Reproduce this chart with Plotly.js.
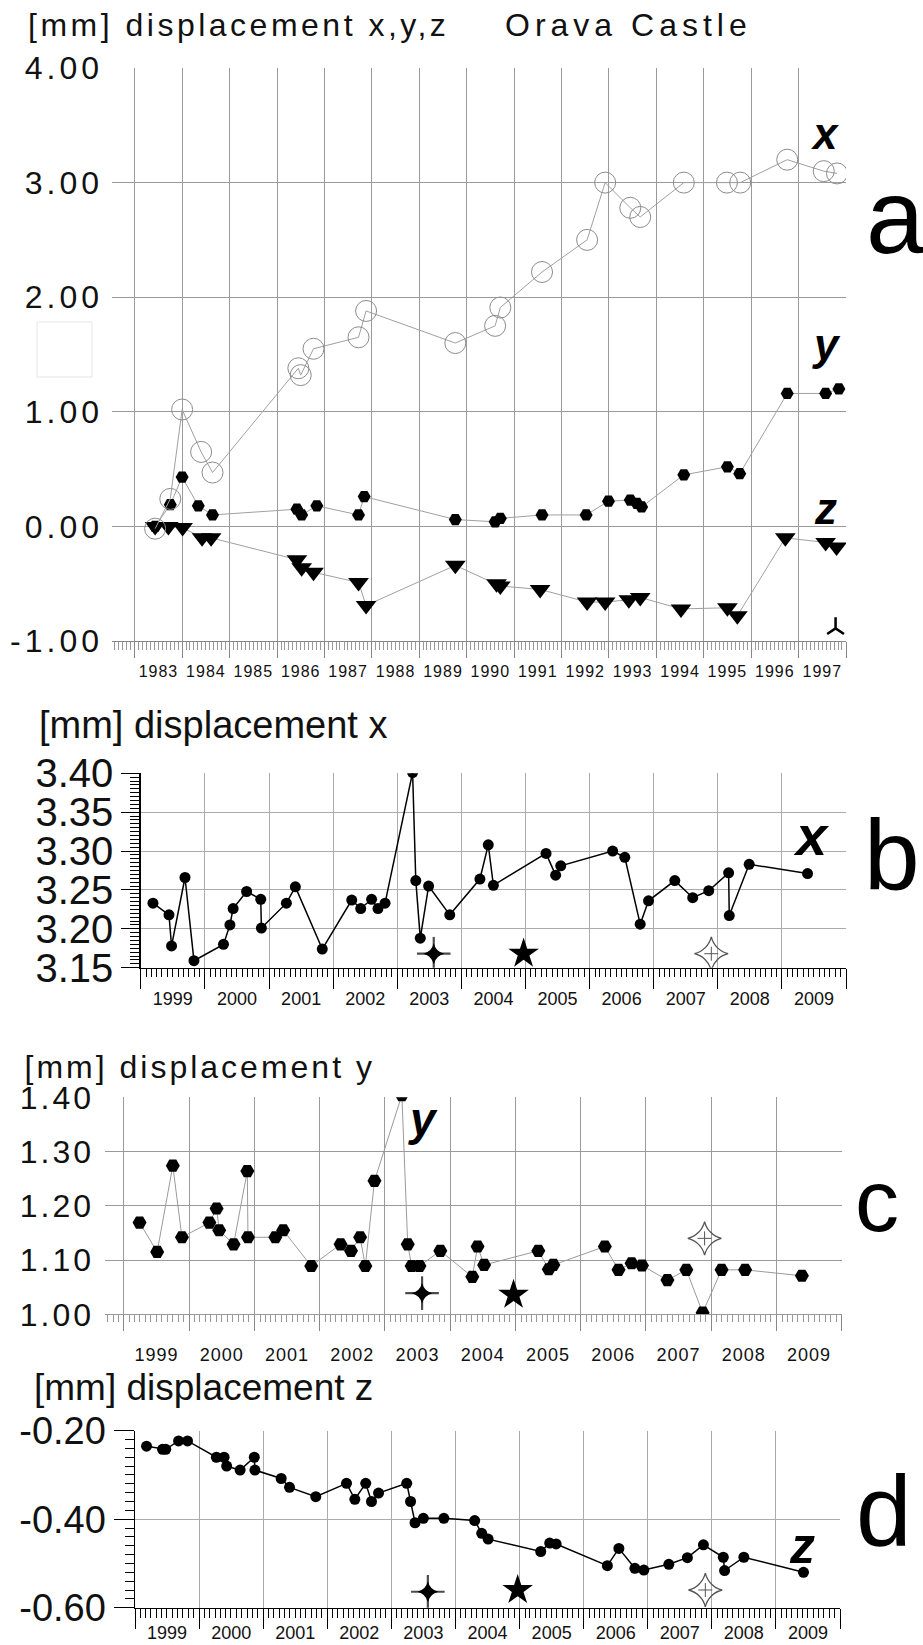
<!DOCTYPE html>
<html><head><meta charset="utf-8">
<script src="https://cdn.plot.ly/plotly-3.0.1.min.js"></script>
<style>
html,body{margin:0;padding:0;background:#fff;}
#chart{width:923px;height:1645px;}
.gtitle{letter-spacing:3.5px;}
.annotation[data-index="0"] text{letter-spacing:5px;}
.annotation[data-index="2"] text{letter-spacing:3px;}
.subplot.xy .yaxislayer-above text{letter-spacing:4px;}
.subplot.x3y3 .yaxislayer-above text{letter-spacing:3px;}
.subplot.xy .xaxislayer-above text{letter-spacing:1px;}
.subplot.x3y3 .xaxislayer-above text{letter-spacing:1px;}
</style></head><body><div id="chart"></div>
<script>
// ---------- Panel a : displacement x, y, z 1983-1997 ----------
const aXYears = [1983.43, 1983.75, 1984.00, 1984.40, 1984.64, 1986.45, 1986.50, 1986.77, 1987.72, 1987.88, 1989.76, 1990.60, 1990.71, 1991.59, 1992.54, 1992.92, 1993.45, 1993.66, 1994.58, 1995.49, 1995.77, 1996.76, 1997.53, 1997.81];
const aXVals  = [-0.02, 0.24, 1.02, 0.65, 0.47, 1.38, 1.32, 1.55, 1.65, 1.88, 1.60, 1.75, 1.91, 2.22, 2.50, 3.00, 2.78, 2.70, 3.00, 3.00, 3.00, 3.20, 3.10, 3.08];
const aYYears = [1983.43, 1983.75, 1984.00, 1984.34, 1984.64, 1986.42, 1986.52, 1986.84, 1987.72, 1987.84, 1989.76, 1990.60, 1990.71, 1991.59, 1992.52, 1992.99, 1993.45, 1993.59, 1993.69, 1994.58, 1995.50, 1995.76, 1996.76, 1997.57, 1997.85];
const aYVals  = [0.00, 0.19, 0.43, 0.18, 0.10, 0.15, 0.10, 0.18, 0.10, 0.26, 0.06, 0.04, 0.07, 0.10, 0.10, 0.22, 0.23, 0.20, 0.17, 0.45, 0.52, 0.46, 1.16, 1.16, 1.20];
const aZYears = [1983.43, 1983.71, 1984.01, 1984.42, 1984.61, 1986.42, 1986.52, 1986.77, 1987.72, 1987.88, 1989.76, 1990.63, 1990.71, 1991.55, 1992.54, 1992.92, 1993.42, 1993.66, 1994.52, 1995.50, 1995.71, 1996.72, 1997.57, 1997.80];
const aZVals  = [0.00, 0.00, -0.01, -0.10, -0.10, -0.29, -0.36, -0.40, -0.49, -0.69, -0.34, -0.50, -0.52, -0.55, -0.66, -0.66, -0.64, -0.62, -0.72, -0.71, -0.78, -0.10, -0.14, -0.18];
const aMarkYears = [1997.78];
const aMarkVals  = [-0.89];
const aYTicks  = [-1, 0, 1, 2, 3, 4];
const aYLabels = ['-1.00', '0.00', '1.00', '2.00', '3.00', '4.00'];

// ---------- Panel b : displacement x 1999-2009 ----------
const bYears = [1999.19, 1999.44, 1999.48, 1999.69, 1999.83, 2000.29, 2000.39, 2000.44, 2000.65, 2000.87, 2000.88, 2001.27, 2001.41, 2001.83, 2002.29, 2002.43, 2002.60, 2002.70, 2002.81, 2003.24, 2003.29, 2003.36, 2003.49, 2003.82, 2004.29, 2004.42, 2004.50, 2005.32, 2005.47, 2005.55, 2006.36, 2006.55, 2006.79, 2006.92, 2007.33, 2007.61, 2007.86, 2008.17, 2008.18, 2008.49, 2009.40];
const bVals  = [3.233, 3.218, 3.178, 3.266, 3.159, 3.180, 3.205, 3.226, 3.248, 3.238, 3.201, 3.233, 3.254, 3.174, 3.237, 3.226, 3.238, 3.226, 3.233, 3.401, 3.262, 3.188, 3.255, 3.218, 3.264, 3.308, 3.256, 3.297, 3.269, 3.281, 3.300, 3.292, 3.206, 3.236, 3.262, 3.240, 3.249, 3.272, 3.217, 3.283, 3.271];
const bYTicks  = [3.15, 3.20, 3.25, 3.30, 3.35, 3.40];
const bYLabels = ['3.15', '3.20', '3.25', '3.30', '3.35', '3.40'];

// ---------- Panel c : displacement y 1999-2009 ----------
const cYears = [1999.24, 1999.51, 1999.75, 1999.89, 2000.31, 2000.42, 2000.46, 2000.68, 2000.89, 2000.90, 2001.32, 2001.44, 2001.87, 2002.32, 2002.48, 2002.62, 2002.70, 2002.84, 2003.26, 2003.35, 2003.41, 2003.53, 2003.85, 2004.34, 2004.42, 2004.52, 2005.35, 2005.51, 2005.58, 2006.37, 2006.58, 2006.78, 2006.94, 2007.33, 2007.62, 2007.87, 2008.16, 2008.52, 2009.39];
const cVals  = [1.169, 1.115, 1.274, 1.142, 1.169, 1.195, 1.155, 1.129, 1.264, 1.142, 1.142, 1.155, 1.089, 1.129, 1.117, 1.142, 1.089, 1.246, 1.404, 1.129, 1.089, 1.089, 1.117, 1.069, 1.125, 1.091, 1.117, 1.083, 1.091, 1.125, 1.082, 1.094, 1.090, 1.063, 1.082, 1.003, 1.082, 1.082, 1.071];
const cYTicks  = [1.0, 1.1, 1.2, 1.3, 1.4];
const cYLabels = ['1.00', '1.10', '1.20', '1.30', '1.40'];

// ---------- Panel d : displacement z 1999-2009 ----------
const dYears = [1999.18, 1999.43, 1999.48, 1999.68, 1999.82, 2000.27, 2000.39, 2000.43, 2000.64, 2000.86, 2000.87, 2001.28, 2001.41, 2001.82, 2002.30, 2002.43, 2002.60, 2002.69, 2002.80, 2003.24, 2003.30, 2003.37, 2003.50, 2003.82, 2004.30, 2004.41, 2004.51, 2005.33, 2005.47, 2005.57, 2006.37, 2006.55, 2006.80, 2006.94, 2007.33, 2007.62, 2007.87, 2008.18, 2008.20, 2008.50, 2009.43];
const dVals  = [-0.235, -0.242, -0.242, -0.223, -0.223, -0.260, -0.260, -0.280, -0.289, -0.260, -0.289, -0.308, -0.328, -0.349, -0.319, -0.355, -0.319, -0.360, -0.341, -0.319, -0.360, -0.408, -0.398, -0.398, -0.403, -0.432, -0.445, -0.473, -0.454, -0.456, -0.505, -0.466, -0.511, -0.515, -0.502, -0.487, -0.458, -0.486, -0.516, -0.486, -0.520];
const dYTicks  = [-0.6, -0.4, -0.2];
const dYLabels = ['-0.60', '-0.40', '-0.20'];

// ---------- Event symbols (stars): [black 4-point, black 5-point, open 4-point] ----------
const eventYears = [2003.57, 2004.97, 2007.90];
const eventB = [3.168, 3.168, 3.168];
const eventC = [1.039, 1.036, 1.140];
const eventD = [-0.564, -0.560, -0.560];

// ---------- Texts ----------
const titleMain = '[mm] displacement x,y,z';
const titlePlace = 'Orava Castle';
const titleB = '[mm] displacement x';
const titleC = '[mm] displacement y';
const titleD = '[mm] displacement z';

// helpers
function yd(v){ const y = Math.floor(v); const s = Date.UTC(y,0,1), e = Date.UTC(y+1,0,1);
  return new Date(s + (v - y) * (e - s)).toISOString().slice(0,19).replace('T',' '); }
const W = 923, H = 1645;
const px = v => v / W;
const py = v => 1 - v / H;
const FONT = 'Liberation Sans, Arial, Helvetica, sans-serif';
const gA = '#9a9a9a', gB = '#ababab';

function eventTraces(xa, ya, vals){
  const xs = eventYears.map(yd);
  const base = {type:'scatter', mode:'markers', xaxis:xa, yaxis:ya};
  return [
    // black four-pointed star: concave core + thin spikes
    Object.assign({}, base, {x:[xs[0]], y:[vals[0]],
      marker:{symbol:'star-diamond', size:15, color:'#000', line:{width:0}}}),
    Object.assign({}, base, {x:[xs[0], xs[0]], y:[vals[0], vals[0]],
      marker:{symbol:['line-ns', 'line-ew'], size:[24, 24], color:'#000', line:{width:2.2, color:'#000'}}}),
    // black five-pointed star
    Object.assign({}, base, {x:[xs[1]], y:[vals[1]],
      marker:{symbol:'star', size:23, color:'#000', line:{width:0}}}),
    // open four-pointed star with a small inner cross
    Object.assign({}, base, {x:[xs[2]], y:[vals[2]],
      marker:{symbol:'star-diamond-open', size:24, color:'#555', line:{width:1.3, color:'#555'}}}),
    Object.assign({}, base, {x:[xs[2]], y:[vals[2]],
      marker:{symbol:'cross-thin', size:10, color:'#555', line:{width:1, color:'#555'}}})
  ];
}

const data = [
  {type:'scatter', mode:'lines+markers', x:aZYears.map(yd), y:aZVals, xaxis:'x', yaxis:'y',
   line:{color:'#a0a0a0', width:1}, marker:{symbol:'triangle-down', size:18, color:'#000'}},
  {type:'scatter', mode:'lines+markers', x:aYYears.map(yd), y:aYVals, xaxis:'x', yaxis:'y',
   line:{color:'#a0a0a0', width:1}, marker:{symbol:'hexagon2', size:13, color:'#000'}},
  {type:'scatter', mode:'lines+markers', x:aXYears.map(yd), y:aXVals, xaxis:'x', yaxis:'y',
   line:{color:'#a0a0a0', width:1}, marker:{symbol:'circle-open', size:21, color:'#8c8c8c', line:{width:1}}},
  {type:'scatter', mode:'markers', x:aMarkYears.map(yd), y:aMarkVals, xaxis:'x', yaxis:'y',
   marker:{symbol:'y-up', size:14, color:'#000', line:{width:2.5, color:'#000'}}},

  {type:'scatter', mode:'lines+markers', x:bYears.map(yd), y:bVals, xaxis:'x2', yaxis:'y2',
   line:{color:'#000', width:1.5}, marker:{symbol:'circle', size:11, color:'#000'}},
  ...eventTraces('x2', 'y2', eventB),

  {type:'scatter', mode:'lines+markers', x:cYears.map(yd), y:cVals, xaxis:'x3', yaxis:'y3',
   line:{color:'#9a9a9a', width:1}, marker:{symbol:'hexagon2', size:14, color:'#000'}},
  ...eventTraces('x3', 'y3', eventC),

  {type:'scatter', mode:'lines+markers', x:dYears.map(yd), y:dVals, xaxis:'x4', yaxis:'y4',
   line:{color:'#000', width:1.5}, marker:{symbol:'circle', size:11, color:'#000'}},
  ...eventTraces('x4', 'y4', eventD)
];

function xAxis(dom, anchor, r0, r1, t0, opts){
  return Object.assign({
    domain:dom, anchor:anchor, type:'date', range:[yd(r0), yd(r1)],
    tickmode:'linear', tick0:t0, dtick:'M12', tickformat:'%Y', ticklabelmode:'period',
    ticks:'outside', showgrid:true, zeroline:false, showline:true, fixedrange:true
  }, opts);
}
function yAxis(dom, anchor, r, tv, tt, opts){
  return Object.assign({
    domain:dom, anchor:anchor, range:r, tickmode:'array', tickvals:tv, ticktext:tt,
    showgrid:true, zeroline:false, fixedrange:true
  }, opts);
}

const layout = {
  width:W, height:H, margin:{l:0, r:0, t:0, b:0}, showlegend:false,
  paper_bgcolor:'#fff', plot_bgcolor:'rgba(0,0,0,0)',
  font:{family:FONT, color:'#111'},
  title:{text:titleMain, x:px(28), xanchor:'left', xref:'paper', y:py(25), yanchor:'middle', yref:'paper',
         font:{size:32, color:'#111'}},

  xaxis: xAxis([px(112), px(846)], 'y', 1982.52, 1998.0, '1983-01-01', {
    ticklen:16, tickcolor:'#888', gridcolor:gA, linecolor:'#888', tickfont:{size:16},
    minor:{dtick:'M1', tick0:'1983-01-01', ticks:'outside', ticklen:8, tickcolor:'#999', showgrid:false}}),
  yaxis: yAxis([py(641), py(68)], 'x', [-1, 4], aYTicks, aYLabels, {
    ticks:'', gridcolor:gA, showline:false, tickfont:{size:32}, ticklabelstandoff:8}),

  xaxis2: xAxis([px(140.8), px(846)], 'y2', 1999, 2010, '1999-01-01', {
    ticklen:20, tickcolor:'#000', gridcolor:gB, linecolor:'#000', linewidth:1.5, tickfont:{size:18},
    ticklabelstandoff:-6,
    minor:{dtick:'M1', tick0:'1999-01-01', ticks:'outside', ticklen:8, tickcolor:'#000', showgrid:false}}),
  yaxis2: yAxis([py(967.7), py(773.3)], 'x2', [3.15, 3.40], bYTicks, bYLabels, {
    ticks:'outside', ticklen:18, tickcolor:'#000', showline:true, linecolor:'#000', linewidth:1.5,
    gridcolor:gB, tickfont:{size:40}, ticklabelstandoff:0,
    minor:{dtick:0.005, tick0:3.15, ticks:'outside', ticklen:9, tickcolor:'#000', showgrid:false}}),

  xaxis3: xAxis([px(105), px(841.7)], 'y3', 1998.71, 2010, '1999-01-01', {
    ticklen:16, tickcolor:'#888', gridcolor:gA, linecolor:'#999', tickfont:{size:18}, ticklabelstandoff:8,
    minor:{dtick:'M1', tick0:'1999-01-01', ticks:'outside', ticklen:7, tickcolor:'#999', showgrid:false}}),
  yaxis3: yAxis([py(1314.3), py(1097.3)], 'x3', [1.0, 1.4], cYTicks, cYLabels, {
    ticks:'', gridcolor:gA, showline:false, tickfont:{size:32}, ticklabelstandoff:10}),

  xaxis4: xAxis([px(135), px(840)], 'y4', 1999, 2010, '1999-01-01', {
    ticklen:20, tickcolor:'#000', gridcolor:gB, linecolor:'#000', linewidth:1.5, tickfont:{size:18},
    ticklabelstandoff:-12,
    minor:{dtick:'M1', tick0:'1999-01-01', ticks:'outside', ticklen:9, tickcolor:'#000', showgrid:false}}),
  yaxis4: yAxis([py(1607.7), py(1430.7)], 'x4', [-0.6, -0.2], dYTicks, dYLabels, {
    ticks:'outside', ticklen:20, tickcolor:'#000', showline:true, linecolor:'#000', linewidth:1.5,
    gridcolor:gB, tickfont:{size:38}, ticklabelstandoff:0,
    minor:{dtick:0.02, tick0:-0.6, ticks:'outside', ticklen:9, tickcolor:'#000', showgrid:false}}),

  shapes:[
    {type:'rect', xref:'paper', yref:'paper', x0:px(37), x1:px(92), y0:py(377), y1:py(322),
     line:{color:'#e6e6e6', width:1}}
  ],

  annotations:[
    // letter-spaced texts are centred on their unspaced width, so their x is moved by half the added spacing
    {text:titlePlace, xref:'paper', yref:'paper', x:px(503 + 30), y:py(25), xanchor:'left', yanchor:'middle', showarrow:false, font:{size:32}},
    {text:titleB, xref:'paper', yref:'paper', x:px(37), y:py(725), xanchor:'left', yanchor:'middle', showarrow:false, font:{size:38}},
    {text:titleC, xref:'paper', yref:'paper', x:px(22 + 28.5), y:py(1067), xanchor:'left', yanchor:'middle', showarrow:false, font:{size:32}},
    {text:titleD, xref:'paper', yref:'paper', x:px(32), y:py(1387), xanchor:'left', yanchor:'middle', showarrow:false, font:{size:37}},

    {text:'<b><i>x</i></b>', xref:'paper', yref:'paper', x:px(825), y:py(133), xanchor:'center', yanchor:'middle', showarrow:false, font:{size:44, color:'#000'}},
    {text:'<b><i>y</i></b>', xref:'paper', yref:'paper', x:px(826), y:py(344), xanchor:'center', yanchor:'middle', showarrow:false, font:{size:44, color:'#000'}},
    {text:'<b><i>z</i></b>', xref:'paper', yref:'paper', x:px(825), y:py(508), xanchor:'center', yanchor:'middle', showarrow:false, font:{size:44, color:'#000'}},
    {text:'<b><i>x</i></b>', xref:'paper', yref:'paper', x:px(811), y:py(835), xanchor:'center', yanchor:'middle', showarrow:false, font:{size:56, color:'#000'}},
    {text:'<b><i>y</i></b>', xref:'paper', yref:'paper', x:px(423), y:py(1119), xanchor:'center', yanchor:'middle', showarrow:false, font:{size:46, color:'#000'}},
    {text:'<b><i>z</i></b>', xref:'paper', yref:'paper', x:px(802), y:py(1546), xanchor:'center', yanchor:'middle', showarrow:false, font:{size:50, color:'#000'}},

    {text:'a', xref:'paper', yref:'paper', x:px(895), y:py(216), xanchor:'center', yanchor:'middle', showarrow:false, font:{size:105, color:'#000'}},
    {text:'b', xref:'paper', yref:'paper', x:px(892), y:py(855), xanchor:'center', yanchor:'middle', showarrow:false, font:{size:100, color:'#000'}},
    {text:'c', xref:'paper', yref:'paper', x:px(877), y:py(1200), xanchor:'center', yanchor:'middle', showarrow:false, font:{size:88, color:'#000'}},
    {text:'d', xref:'paper', yref:'paper', x:px(884), y:py(1511), xanchor:'center', yanchor:'middle', showarrow:false, font:{size:100, color:'#000'}}
  ]
};

Plotly.newPlot('chart', data, layout, {staticPlot:true, displayModeBar:false});
</script>
</body></html>
